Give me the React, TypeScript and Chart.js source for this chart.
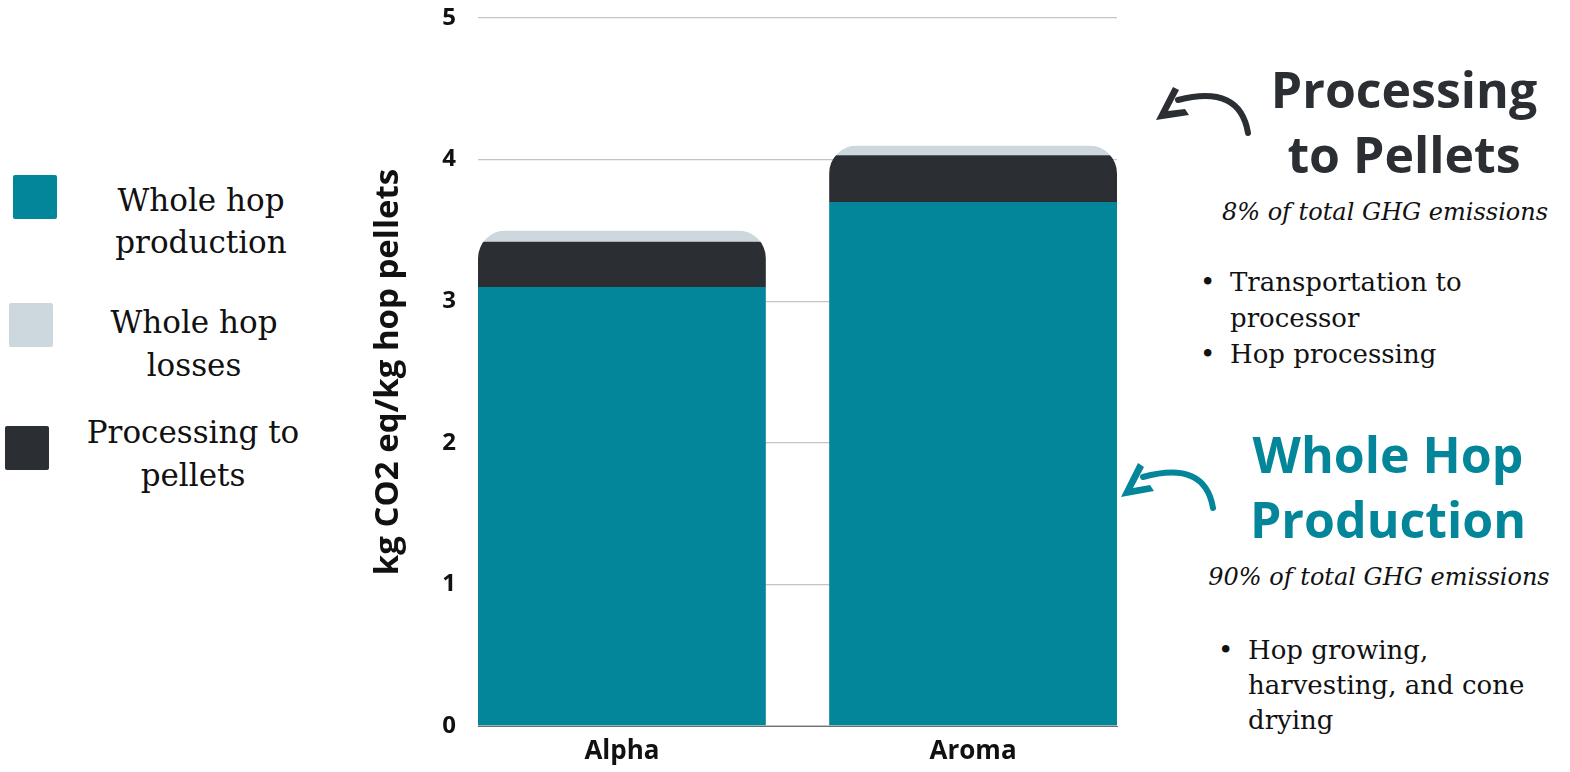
import React, { useEffect, useRef } from "react";
import { Chart, registerables } from "chart.js";

Chart.register(...registerables);

const categories = ["Alpha", "Aroma"];
const wholeHopProduction = [3.1, 3.7];
const processingToPellets = [0.32, 0.33];
const wholeHopLosses = [0.08, 0.07];
const yTickValues = [0, 1, 2, 3, 4, 5];

const TEAL = "#03869a";
const DARK = "#2b2f33";
const LIGHT = "#cdd7de";
const SERIF = "'DejaVu Serif', serif";
const SANS = "'Open Sans', sans-serif";

const toPoints = (arr: number[]) => arr.map((v, i) => ({ x: i, y: v }));

const roundTopPlugin = {
  id: "roundTop",
  beforeDatasetsDraw(chart: any) {
    const ctx = chart.ctx;
    const y = chart.scales.y;
    const meta0 = chart.getDatasetMeta(0);
    const R = 28;
    ctx.save();
    ctx.beginPath();
    meta0.data.forEach((bar: any, i: number) => {
      const total = chart.data.datasets.reduce((s: number, d: any) => s + d.data[i].y, 0);
      const top = y.getPixelForValue(total);
      const bottom = y.getPixelForValue(0);
      const left = bar.x - bar.width / 2;
      ctx.roundRect(left, top, bar.width, bottom - top, [R, R, 0, 0]);
    });
    ctx.clip();
  },
  afterDatasetsDraw(chart: any) {
    chart.ctx.restore();
  },
};

function Txt(props: { x: number; y: number; text: string; style: React.CSSProperties; center?: boolean }) {
  return (
    <div
      style={{
        position: "absolute",
        left: props.x,
        top: props.y,
        whiteSpace: "nowrap",
        transform: props.center === false ? "translateY(-50%)" : "translate(-50%, -50%)",
        lineHeight: 1,
        ...props.style,
      }}
    >
      {props.text}
    </div>
  );
}

export default function App() {
  const ref = useRef<HTMLCanvasElement | null>(null);

  useEffect(() => {
    if (!ref.current) return;
    const chart = new Chart(ref.current, {
      type: "bar",
      data: {
        datasets: [
          { label: "Whole hop production", data: toPoints(wholeHopProduction), backgroundColor: TEAL },
          { label: "Processing to pellets", data: toPoints(processingToPellets), backgroundColor: DARK },
          { label: "Whole hop losses", data: toPoints(wholeHopLosses), backgroundColor: LIGHT },
        ],
      },
      options: {
        animation: false,
        responsive: false,
        maintainAspectRatio: false,
        layout: { padding: { left: 5, right: 13, top: 18, bottom: 0 } },
        datasets: { bar: { barPercentage: 0.82, categoryPercentage: 1 } },
        plugins: { legend: { display: false }, tooltip: { enabled: false } },
        scales: {
          x: {
            type: "linear",
            stacked: true,
            offset: false,
            min: -0.41,
            max: 1.41,
            afterBuildTicks: (s: any) => {
              s.ticks = categories.map((_, i) => ({ value: i }));
            },
            grid: { display: false, drawTicks: false, offset: false },
            border: { display: true, color: "#6f6f6f", width: 1 },
            ticks: {
              color: "#111",
              font: { family: SANS, size: 26, weight: "bold" },
              padding: 10,
              autoSkip: false,
              maxRotation: 0,
              callback: (v: any) => categories[Math.round(Number(v))] ?? "",
            },
            afterFit: (s: any) => {
              s.height = 46;
              s.paddingLeft = 0;
              s.paddingRight = 0;
            },
          },
          y: {
            stacked: true,
            min: 0,
            max: 5,
            afterBuildTicks: (s: any) => {
              s.ticks = yTickValues.map((v) => ({ value: v }));
            },
            grid: { color: "#c4c4c4", lineWidth: 1.3, drawTicks: false },
            border: { display: false },
            ticks: { color: "#111", font: { family: SANS, size: 24, weight: "bold" }, padding: 22 },
            title: {
              display: true,
              text: "kg CO2 eq/kg hop pellets",
              color: "#111",
              font: { family: SANS, size: 33, weight: "bold" },
            },
            afterFit: (s: any) => {
              s.width = 113;
              s.paddingTop = 0;
              s.paddingBottom = 0;
            },
          },
        },
      },
      plugins: [roundTopPlugin],
    } as any);
    return () => chart.destroy();
  }, []);

  const legendFont: React.CSSProperties = { fontFamily: SERIF, fontSize: 31, color: "#111" };
  const bulletFont: React.CSSProperties = { fontFamily: SERIF, fontSize: 26, color: "#111" };
  const italicFont: React.CSSProperties = { fontFamily: SERIF, fontSize: 24, fontStyle: "italic", color: "#111" };
  const headDark: React.CSSProperties = { fontFamily: SANS, fontSize: 50, fontWeight: 700, color: DARK };
  const headTeal: React.CSSProperties = { fontFamily: SANS, fontSize: 50, fontWeight: 700, color: TEAL };

  return (
    <div style={{ position: "absolute", left: 0, top: 0, width: 1570, height: 772, background: "#fff", overflow: "hidden" }}>
      <canvas ref={ref} width={770} height={772} style={{ position: "absolute", left: 360, top: 0, width: 770, height: 772 }} />

      {/* legend */}
      <div style={{ position: "absolute", left: 13, top: 175, width: 44, height: 44, background: TEAL, borderRadius: 2 }} />
      <div style={{ position: "absolute", left: 9, top: 303, width: 44, height: 44, background: LIGHT, borderRadius: 2 }} />
      <div style={{ position: "absolute", left: 5, top: 426, width: 44, height: 44, background: DARK, borderRadius: 2 }} />
      <Txt x={201} y={200} text="Whole hop" style={legendFont} />
      <Txt x={201} y={242} text="production" style={legendFont} />
      <Txt x={194} y={322} text="Whole hop" style={legendFont} />
      <Txt x={194} y={365} text="losses" style={legendFont} />
      <Txt x={193} y={432} text="Processing to" style={legendFont} />
      <Txt x={193} y={475} text="pellets" style={legendFont} />

      {/* right annotations */}
      <Txt x={1404} y={89} text="Processing" style={headDark} />
      <Txt x={1404} y={154} text="to Pellets" style={headDark} />
      <Txt x={1385} y={212} text="8% of total GHG emissions" style={italicFont} />
      <Txt x={1200} y={282} text="•" style={bulletFont} center={false} />
      <Txt x={1230} y={282} text="Transportation to" style={bulletFont} center={false} />
      <Txt x={1230} y={318} text="processor" style={bulletFont} center={false} />
      <Txt x={1200} y={354} text="•" style={bulletFont} center={false} />
      <Txt x={1230} y={354} text="Hop processing" style={bulletFont} center={false} />

      <Txt x={1388} y={454} text="Whole Hop" style={headTeal} />
      <Txt x={1388} y={519} text="Production" style={headTeal} />
      <Txt x={1379} y={577} text="90% of total GHG emissions" style={italicFont} />
      <Txt x={1218} y={650} text="•" style={bulletFont} center={false} />
      <Txt x={1248} y={650} text="Hop growing," style={bulletFont} center={false} />
      <Txt x={1248} y={685} text="harvesting, and cone" style={bulletFont} center={false} />
      <Txt x={1248} y={720} text="drying" style={bulletFont} center={false} />

      {/* arrows */}
      <svg width={1570} height={772} style={{ position: "absolute", left: 0, top: 0, pointerEvents: "none" }}>
        <path d="M1248,133 Q1240,84 1178,100" fill="none" stroke={DARK} strokeWidth={6} strokeLinecap="round" />
        <path d="M1173,87 L1156,120 L1189,115 L1185,109 L1168,111 L1179,90 Z" fill={DARK} />
        <path d="M1213,508 Q1205,460 1143,477" fill="none" stroke={TEAL} strokeWidth={6} strokeLinecap="round" />
        <path d="M1138,463 L1121,497 L1154,491 L1150,485 L1133,488 L1144,467 Z" fill={TEAL} />
      </svg>
    </div>
  );
}
